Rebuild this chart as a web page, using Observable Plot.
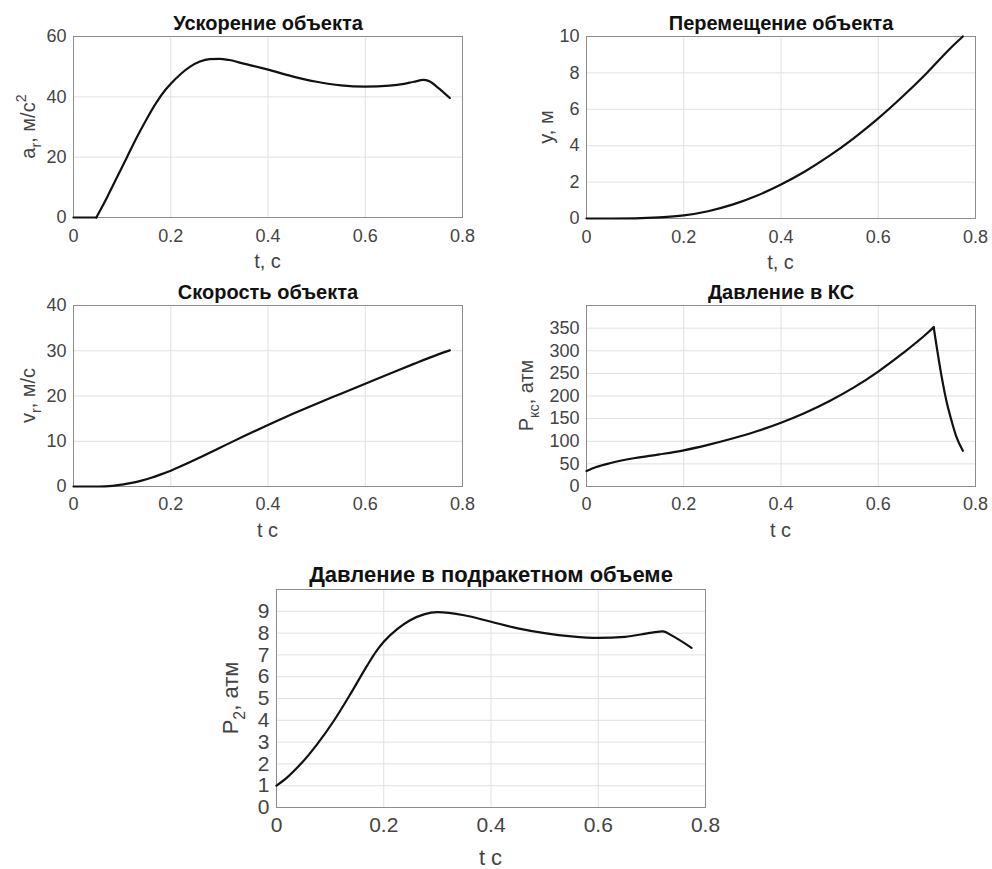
<!DOCTYPE html>
<html><head><meta charset="utf-8">
<script src="https://cdn.jsdelivr.net/npm/d3@7"></script>
<script src="https://cdn.jsdelivr.net/npm/@observablehq/plot@0.6"></script>
<style>
body{margin:0;background:#fff;width:992px;height:869px;position:relative;overflow:hidden;font-family:"Liberation Sans",Arial,Helvetica,sans-serif;}
.panel{position:absolute;}
.panel svg{overflow:visible;}
</style></head><body>
<div id="p1" class="panel" style="left:0px;top:0px"></div>
<div id="p2" class="panel" style="left:496px;top:0px"></div>
<div id="p3" class="panel" style="left:0px;top:280px"></div>
<div id="p4" class="panel" style="left:496px;top:280px"></div>
<div id="p5" class="panel" style="left:200px;top:550px"></div>
<script>
// ---- data ----
const titles = ["Ускорение объекта", "Перемещение объекта", "Скорость объекта", "Давление в КС", "Давление в подракетном объеме"];
const xTicks = [0, 0.2, 0.4, 0.6, 0.8];
const xLabels = ["t, с", "t, с", "t с", "t с", "t с"];
// y label pieces: [text, shift] shift -1 = subscript, 1 = superscript
const yLabel1 = [["a", 0], ["r", -1], [", м/с", 0], ["2", 1]];
const yLabel2 = [["y, м", 0]];
const yLabel3 = [["v", 0], ["r", -1], [", м/с", 0]];
const yLabel4 = [["P", 0], ["кс", -1], [", атм", 0]];
const yLabel5 = [["P", 0], ["2", -1], [", атм", 0]];

const yTicks1 = [0, 20, 40, 60];
const yTicks2 = [0, 2, 4, 6, 8, 10];
const yTicks3 = [0, 10, 20, 30, 40];
const yTicks4 = [0, 50, 100, 150, 200, 250, 300, 350];
const yTicks5 = [0, 1, 2, 3, 4, 5, 6, 7, 8, 9];

const tAcc = [0, 0.047, 0.055, 0.07, 0.09, 0.11, 0.13, 0.15, 0.17, 0.19, 0.2, 0.22, 0.24, 0.26, 0.28, 0.3, 0.32, 0.35, 0.4, 0.45, 0.5, 0.55, 0.6, 0.65, 0.68, 0.7, 0.72, 0.73, 0.75, 0.774];
const acc  = [0, 0, 2.4, 7, 13.5, 20, 26.5, 32.5, 38, 42.5, 44.3, 47.5, 50, 51.7, 52.5, 52.6, 52.2, 51, 49, 46.8, 45, 43.8, 43.4, 43.7, 44.3, 45, 45.6, 45.3, 43, 39.6];

const tDisp = [0, 0.05, 0.1, 0.15, 0.2, 0.25, 0.3, 0.35, 0.4, 0.45, 0.5, 0.55, 0.6, 0.65, 0.7, 0.75, 0.774];
const disp  = [0, 0, 0.01, 0.06, 0.17, 0.4, 0.76, 1.25, 1.87, 2.6, 3.45, 4.42, 5.5, 6.7, 8.0, 9.4, 10.0];

const tVel = [0, 0.05, 0.08, 0.1, 0.12, 0.14, 0.16, 0.18, 0.2, 0.25, 0.3, 0.35, 0.4, 0.45, 0.5, 0.55, 0.6, 0.65, 0.7, 0.75, 0.774];
const vel  = [0, 0, 0.14, 0.43, 0.81, 1.31, 1.93, 2.68, 3.5, 5.9, 8.5, 11.1, 13.6, 16.0, 18.3, 20.5, 22.7, 24.9, 27.1, 29.2, 30.1];

const tPks = [0, 0.02, 0.05, 0.1, 0.15, 0.2, 0.25, 0.3, 0.35, 0.4, 0.45, 0.5, 0.55, 0.6, 0.65, 0.7, 0.714, 0.72, 0.73, 0.74, 0.75, 0.76, 0.774];
const pks  = [34, 43, 52, 63, 71, 80, 92, 106, 122, 141, 163, 189, 219, 254, 294, 338, 352, 310, 245, 190, 148, 112, 79];

const tP2 = [0, 0.02, 0.045, 0.076, 0.107, 0.138, 0.169, 0.185, 0.2, 0.225, 0.25, 0.275, 0.3, 0.35, 0.4, 0.45, 0.5, 0.55, 0.6, 0.65, 0.7, 0.72, 0.74, 0.774];
const p2   = [1.0, 1.38, 1.99, 2.91, 3.98, 5.21, 6.51, 7.13, 7.6, 8.18, 8.6, 8.86, 8.96, 8.82, 8.52, 8.22, 8.0, 7.85, 7.78, 7.83, 8.02, 8.08, 7.85, 7.32];

// split a series into pieces at the given point indices (the break point belongs to both pieces)
function pieces(ts, vs, breaks = []) {
  const out = [];
  let seg = 0;
  ts.forEach((t, i) => {
    out.push({t, v: vs[i], seg});
    if (breaks.includes(i)) { seg++; out.push({t, v: vs[i], seg}); }
  });
  return out;
}

// ---- drawing ----
const FONT = "'Liberation Sans', Arial, Helvetica, sans-serif";
function panel(el, o) {
  const svg = Plot.plot({
    width: o.w, height: o.h,
    marginLeft: o.ml, marginRight: o.mr, marginTop: o.mt, marginBottom: o.mb,
    style: {fontFamily: FONT, fontSize: o.fs + "px", color: "#444", background: "transparent", overflow: "visible"},
    x: {domain: [0, 0.8]},
    y: {domain: o.yDomain},
    marks: [
      Plot.gridX(xTicks, {stroke: "#e0e0e0", strokeOpacity: 1}),
      Plot.gridY(o.yTicks, {stroke: "#e0e0e0", strokeOpacity: 1}),
      Plot.axisX(xTicks, {tickSize: 0, tickPadding: o.xpad, label: null, tickFormat: d => String(Math.round(d * 10) / 10), fontSize: o.fs}),
      Plot.axisY(o.yTicks, {tickSize: 0, tickPadding: 7, label: null, tickFormat: d => String(d), fontSize: o.fs}),
      Plot.frame({stroke: "#8c8c8c"}),
      Plot.line(o.data, {x: "t", y: "v", z: "seg", stroke: "#111", strokeWidth: 2.2, curve: "monotone-x"}),
      Plot.text([o.title], {frameAnchor: "top", dy: -o.tdy, lineAnchor: "bottom", fontWeight: "bold", fontSize: o.tfs, fill: "#111"})
    ]
  });
  const s = d3.select(svg);
  const fx = o.ml + (o.w - o.ml - o.mr) / 2;
  const fy = o.mt + (o.h - o.mt - o.mb) / 2;
  // x label
  s.append("text").attr("x", fx).attr("y", o.h - o.mb + o.xlOff)
    .attr("text-anchor", "middle").attr("fill", "#444")
    .attr("font-family", FONT).attr("font-size", o.lfs).text(o.xLabel);
  // y label with sub/superscripts
  const yl = s.append("text")
    .attr("transform", `translate(${o.ylx},${fy}) rotate(-90)`)
    .attr("text-anchor", "middle").attr("fill", "#444")
    .attr("font-family", FONT).attr("font-size", o.lfs);
  let cur = 0;
  for (const [txt, sh] of o.yLabel) {
    const target = sh < 0 ? 0.32 * o.lfs : sh > 0 ? -0.45 * o.lfs : 0;
    const ts = yl.append("tspan").attr("dy", target - cur).text(txt);
    if (sh !== 0) ts.attr("font-size", o.lfs * 0.72);
    cur = target;
  }
  document.getElementById(el).appendChild(svg);
}

panel("p1", {w: 490, h: 275, ml: 73, mr: 28, mt: 36, mb: 58, fs: 18, lfs: 20, tfs: 20, tdy: 7, xpad: 12, xlOff: 51,
  yDomain: [0, 60], yTicks: yTicks1, data: pieces(tAcc, acc, [1]), title: titles[0], xLabel: xLabels[0], yLabel: yLabel1, ylx: 35});
panel("p2", {w: 496, h: 275, ml: 90, mr: 17, mt: 36, mb: 57, fs: 18, lfs: 20, tfs: 20, tdy: 7, xpad: 12, xlOff: 51,
  yDomain: [0, 10], yTicks: yTicks2, data: pieces(tDisp, disp), title: titles[1], xLabel: xLabels[1], yLabel: yLabel2, ylx: 57});
panel("p3", {w: 490, h: 265, ml: 73, mr: 28, mt: 25, mb: 59, fs: 18, lfs: 20, tfs: 20, tdy: 7, xpad: 11, xlOff: 51,
  yDomain: [0, 40], yTicks: yTicks3, data: pieces(tVel, vel), title: titles[2], xLabel: xLabels[2], yLabel: yLabel3, ylx: 35});
panel("p4", {w: 496, h: 265, ml: 90, mr: 17, mt: 25, mb: 59, fs: 18, lfs: 20, tfs: 20, tdy: 7, xpad: 11, xlOff: 51,
  yDomain: [0, 400], yTicks: yTicks4, data: pieces(tPks, pks, [16]), title: titles[3], xLabel: xLabels[3], yLabel: yLabel4, ylx: 37});
panel("p5", {w: 560, h: 319, ml: 76, mr: 55, mt: 39, mb: 62, fs: 21, lfs: 22, tfs: 22, tdy: 8, xpad: 10, xlOff: 58,
  yDomain: [0, 10], yTicks: yTicks5, data: pieces(tP2, p2), title: titles[4], xLabel: xLabels[4], yLabel: yLabel5, ylx: 38});
</script>
</body></html>
